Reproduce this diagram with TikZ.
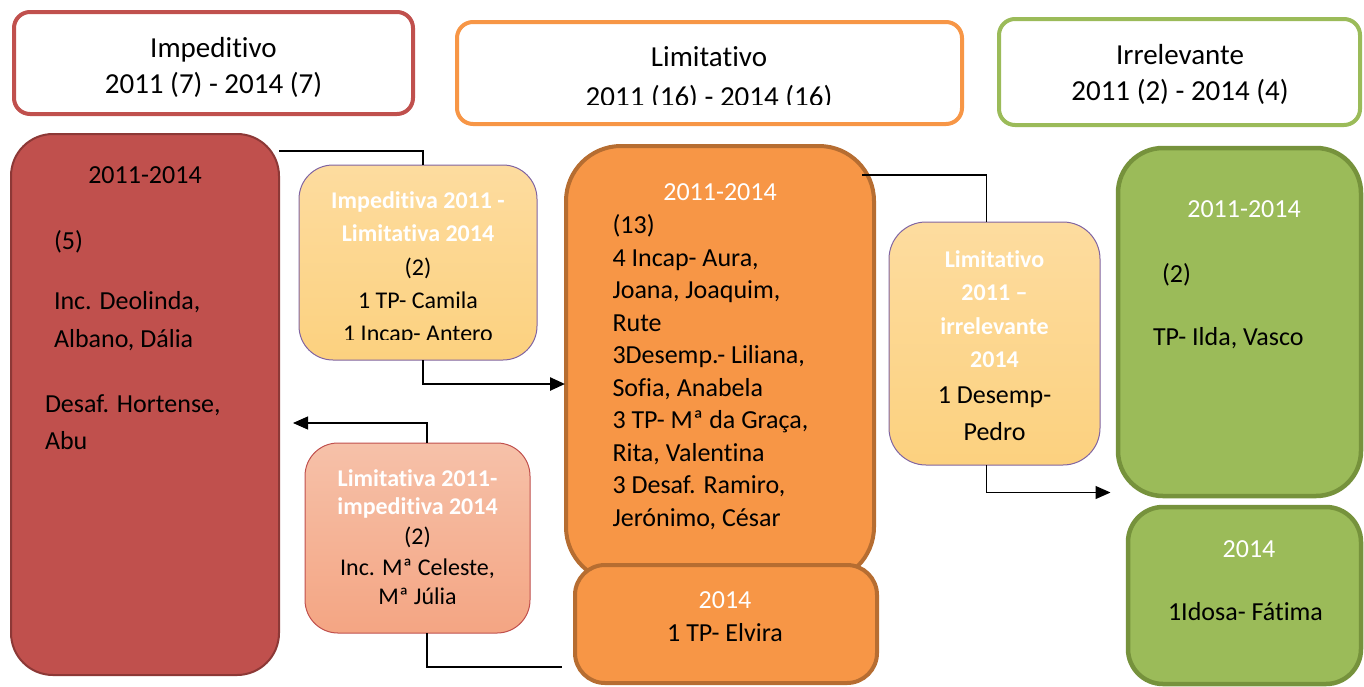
\documentclass[tikz,border=0pt]{standalone}
\usepackage{fontspec}
\setmainfont{Carlito}[Ligatures={NoCommon,NoRequired,NoContextual}]
\usetikzlibrary{arrows.meta}
\definecolor{redF}{HTML}{C0504D}
\definecolor{redD}{HTML}{8C3836}
\definecolor{oraF}{HTML}{F79646}
\definecolor{oraD}{HTML}{B66D31}
\definecolor{greF}{HTML}{9BBB59}
\definecolor{greD}{HTML}{76923C}
\definecolor{purB}{HTML}{8064A2}
\definecolor{lightT}{HTML}{FDDC9F}
\definecolor{lightB}{HTML}{FCD17F}
\definecolor{salT}{HTML}{F6C1A9}
\definecolor{salB}{HTML}{F4A583}
\begin{document}
\begin{tikzpicture}[x=1pt,y=-1pt,
  every node/.style={inner sep=0pt,outer sep=0pt},
  topbox/.style={draw,line width=4pt,fill=white,rounded corners=16pt},
  bigbox/.style={line width=4pt},
  tbox/.style={rounded corners=34pt,line width=1pt},
  hd/.style={anchor=base,font=\fontsize{29}{35}\selectfont},
  tx/.style={anchor=base,font=\fontsize{26}{32}\selectfont},
  txl/.style={anchor=base west,font=\fontsize{26}{32}\selectfont},
  wt/.style={anchor=base,text=white,font=\fontsize{26}{32}\selectfont},
  sm/.style={anchor=base,font=\fontsize{24}{30}\selectfont},
  bw/.style={anchor=base,text=white,font=\fontsize{24}{30}\selectfont\bfseries},
  thickln/.style={line width=2.5pt},
  thinln/.style={line width=1.2pt},
  arr/.style={-{Triangle[length=15pt,width=13pt]}}]
\useasboundingbox (0,0) rectangle (1364,686);

% top header boxes
\node[topbox,draw=redF,minimum width=399pt,minimum height=102pt] (top1) at (213.5,63) {};
\node[hd] (top1a) at (213.5,57) {Impeditivo};
\node[hd] (top1b) at (213.5,93) {2011 (7) - 2014 (7)};

\node[topbox,draw=oraF,minimum width=505pt,minimum height=102pt] (top2) at (709.5,73) {};
\node[hd] (top2a) at (709,66) {Limitativo};
\begin{scope}
  \clip (460,80) rectangle (960,104.5);
  \node[hd] (top2b) at (709,106.5) {2011 (16) - 2014 (16)};
\end{scope}

\node[topbox,draw=greF,minimum width=361pt,minimum height=106pt] (top3) at (1179.5,72) {};
\node[hd] (top3a) at (1180,64.5) {Irrelevante};
\node[hd] (top3b) at (1180,100) {2011 (2) - 2014 (4)};

% impeditivo column
\node[draw=redD,fill=redF,line width=2pt,rounded corners=42pt,minimum width=268pt,minimum height=541pt] (red) at (145,404.5) {};
\node[tx] (r1) at (145,183) {2011-2014};
\node[txl] (r2) at (54,249) {(5)};
\node[txl] (r3) at (54,309) {Inc. Deolinda,};
\node[txl] (r4) at (54,347) {Albano, Dália};
\node[txl] (r5) at (45,412) {Desaf. Hortense,};
\node[txl] (r6) at (45,449) {Abu};

% limitativo column
\node[draw=oraD,fill=oraF,bigbox,rounded corners=55pt,minimum width=308pt,minimum height=436pt] (ora) at (720,364) {};
\node[wt] (o0) at (720,200.5) {2011-2014};
\node[txl] (o1) at (612.5,233.5) {(13)};
\node[txl] (o2) at (612.5,266) {4 Incap- Aura,};
\node[txl] (o3) at (612.5,298.5) {Joana, Joaquim,};
\node[txl] (o4) at (612.5,331) {Rute};
\node[txl] (o5) at (612.5,363.5) {3Desemp.- Liliana,};
\node[txl] (o6) at (612.5,396) {Sofia, Anabela};
\node[txl] (o7) at (612.5,428.5) {3 TP- Mª da Graça,};
\node[txl] (o8) at (612.5,461) {Rita, Valentina};
\node[txl] (o9) at (612.5,493.5) {3 Desaf. Ramiro,};
\node[txl] (o10) at (612.5,526) {Jerónimo, César};

\node[draw=oraD,fill=oraF,bigbox,rounded corners=30pt,minimum width=302pt,minimum height=118pt] (ora2) at (726,624) {};
\node[wt] (p1) at (725,608) {2014};
\node[tx] (p2) at (725,641) {1 TP- Elvira};

% irrelevante column
\node[draw=greD,fill=greF,line width=4.5pt,rounded corners=45pt,minimum width=243pt,minimum height=348pt] (gre) at (1239.5,322) {};
\node[wt] (g1) at (1244,217) {2011-2014};
\node[txl] (g2) at (1162,282) {(2)};
\node[txl] (g3) at (1153,345) {TP- Ilda, Vasco};

\node[draw=greD,fill=greF,line width=4.5pt,rounded corners=35pt,minimum width=233pt,minimum height=177pt] (gre2) at (1244.5,595.5) {};
\node[wt] (h1) at (1249,557) {2014};
\node[tx] (h2) at (1245.5,620.5) {1Idosa- Fátima};

% transition boxes
\node[draw=purB,tbox,top color=lightT,bottom color=lightB,minimum width=238pt,minimum height=195pt] (t1) at (418,262.5) {};
\node[bw] (t1a) at (418,208) {Impeditiva 2011 -};
\node[bw] (t1b) at (418,241.5) {Limitativa 2014};
\node[sm] (t1c) at (418,275) {(2)};
\node[sm] (t1d) at (418,308) {1 TP- Camila};
\begin{scope}
  \clip (300,320) rectangle (536,339.5);
  \node[sm] (t1e) at (418,341) {1 Incap- Antero};
\end{scope}

\node[draw=redF,tbox,rounded corners=33pt,top color=salT,bottom color=salB,minimum width=225pt,minimum height=190pt] (t2) at (417.5,538) {};
\node[bw] (t2a) at (417.5,486) {Limitativa 2011-};
\node[bw] (t2b) at (417.5,514) {impeditiva 2014};
\node[sm] (t2c) at (417.5,544) {(2)};
\node[sm] (t2d) at (417.5,575) {Inc. Mª Celeste,};
\node[sm] (t2e) at (417.5,604) {Mª Júlia};

\node[draw=purB,tbox,rounded corners=37pt,top color=lightT,bottom color=lightB,minimum width=211pt,minimum height=243pt] (t3) at (994.5,343.5) {};
\node[bw] (t3a) at (994.5,267) {Limitativo};
\node[bw] (t3b) at (994.5,300) {2011 –};
\node[bw] (t3c) at (994.5,334) {irrelevante};
\node[bw] (t3d) at (994.5,367) {2014};
\node[tx] (t3e) at (994.5,403) {1 Desemp-};
\node[tx] (t3f) at (994.5,440) {Pedro};

% connectors
\coordinate (j1) at (279,151);
\coordinate (a1) at (565,384);
\draw[thickln] (j1) -| ([xshift=5pt]t1.north);
\draw[thickln,arr] ([xshift=5pt]t1.south) |- (a1);

\coordinate (a2) at (293,423);
\coordinate (j3) at (562,667);
\draw[thinln,arr] ([xshift=9.5pt]t2.north) |- (a2);
\draw[thinln] ([xshift=9.5pt]t2.south) |- (j3);

\coordinate (j4) at (862,175);
\coordinate (a3) at (1110.5,492.5);
\draw[thinln] (j4) -| ([xshift=-8pt]t3.north);
\draw[thinln,arr] ([xshift=-8pt]t3.south) |- (a3);
\end{tikzpicture}
\end{document}
